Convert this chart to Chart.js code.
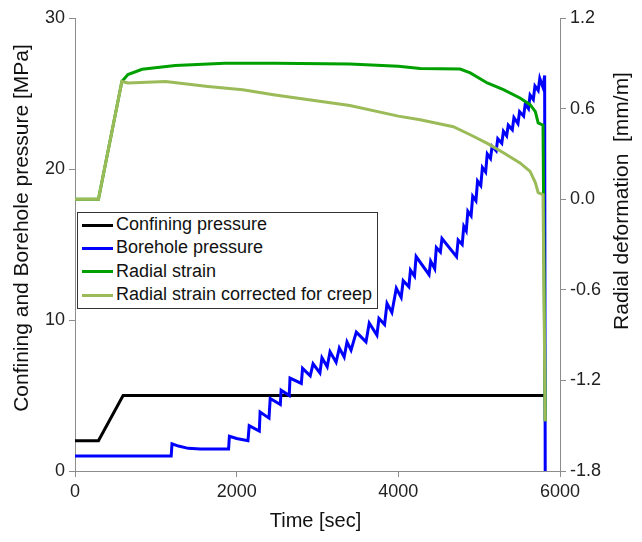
<!DOCTYPE html>
<html>
<head>
<meta charset="utf-8">
<script src="https://cdn.jsdelivr.net/npm/chart.js@4.4.1/dist/chart.umd.min.js"></script>
<style>
  body { margin: 0; background: #fff; }
  #wrap { position: relative; width: 642px; height: 542px; }
  #legend {
    position: absolute; left: 77px; top: 212px; width: 299px;
    background: #fff; border: 1px solid #333;
    font-family: 'Liberation Sans', Arial, sans-serif; font-size: 18px; color: #111;
    padding: 0 0 2px 0;
  }
  #legend div { height: 23.3px; line-height: 23.3px; white-space: nowrap; }
  #legend span.sw { display: inline-block; width: 31px; height: 3px; margin: 0 3px 0 4px; vertical-align: middle; }
</style>
</head>
<body>
<div id="wrap">
  <canvas id="chart" width="642" height="542"></canvas>
  <div id="legend"></div>
</div>
<script>
// Test data

// confining pressure [MPa]
const confTime = [0, 290, 595, 5800];
const confMPa  = [2, 2, 5, 5];

// borehole pressure [MPa]
const boreTime = [0, 1190, 1200, 1280, 1400, 1550, 1900, 1910, 2000, 2140,
  2155, 2280, 2290, 2400, 2415, 2540, 2550, 2650, 2660, 2800,
  2815, 2910, 2945, 3030, 3055, 3120, 3155, 3230, 3270, 3330,
  3365, 3415, 3480, 3600, 3640, 3735, 3760, 3830, 3860, 3920,
  3975, 4035, 4060, 4130, 4150, 4200, 4220, 4380, 4400, 4450,
  4470, 4520, 4540, 4720, 4740, 4790, 4810, 4840, 4860, 4900,
  4920, 4960, 4980, 5020, 5040, 5080, 5100, 5140, 5160, 5210,
  5230, 5280, 5300, 5340, 5360, 5410, 5430, 5480, 5500, 5550,
  5570, 5610, 5630, 5670, 5690, 5730, 5750, 5790, 5810, 5817];
const boreMPa = [1.0, 1.0, 1.8, 1.65, 1.5, 1.45, 1.45, 2.3, 2.15, 2.0,
  3.0, 2.65, 3.9, 3.5, 4.8, 4.4, 5.35, 5.0, 6.15, 5.8,
  6.8, 6.3, 7.1, 6.5, 7.5, 6.9, 7.9, 7.2, 8.15, 7.55,
  8.55, 8.0, 9.2, 8.55, 9.8, 9.0, 10.1, 9.7, 11.1, 10.5,
  12.1, 11.5, 12.6, 12.2, 13.3, 12.9, 14.2, 13.0, 13.9, 13.4,
  14.8, 14.5, 15.4, 14.2, 15.3, 15.0, 16.2, 15.9, 17.2, 16.9,
  18.2, 17.9, 19.2, 18.9, 20.1, 19.8, 21.0, 20.7, 21.5, 21.2,
  22.0, 21.7, 22.5, 22.2, 22.9, 22.6, 23.4, 23.0, 23.8, 23.5,
  24.3, 24.0, 24.9, 24.6, 25.5, 25.2, 26.0, 25.4, 26.2, 0];

// radial strain [mm/m]
const strainTime = [0, 290, 580, 655, 830, 1240, 1855, 2475, 3400, 4000,
  4270, 4765, 4890, 5100, 5300, 5505, 5630, 5695, 5730, 5790, 5817];
const strainVal = [0, 0, 0.78, 0.825, 0.86, 0.885, 0.9, 0.9, 0.895, 0.88,
  0.865, 0.862, 0.836, 0.77, 0.725, 0.67, 0.626, 0.58, 0.505, 0.49, -1.47];

// radial strain corrected for creep [mm/m]
const creepTime = [0, 290, 580, 655, 1120, 1645, 2075, 2475, 3400, 4000,
  4270, 4680, 4890, 5100, 5300, 5505, 5630, 5695, 5730, 5790, 5817];
const creepVal = [0, 0, 0.78, 0.77, 0.78, 0.747, 0.725, 0.69, 0.62, 0.55,
  0.526, 0.48, 0.427, 0.37, 0.308, 0.24, 0.184, 0.11, 0.043, 0.03, -1.47];

const xTicks = [0, 2000, 4000, 6000];
const xTitle = 'Time [sec]';
const yTitle = 'Confining and Borehole pressure [MPa]';
const y1Title = 'Radial deformation  [mm/m]';

const toPts = (xs, ys) => xs.map((x, i) => ({ x: x, y: ys[i] }));

const series = [
  { label: 'Confining pressure', color: '#000000', data: toPts(confTime, confMPa), axis: 'y', order: 3 },
  { label: 'Borehole pressure', color: '#0000ff', data: toPts(boreTime, boreMPa), axis: 'y', order: 2 },
  { label: 'Radial strain', color: '#00a000', data: toPts(strainTime, strainVal), axis: 'y1', order: 1 },
  { label: 'Radial strain corrected for creep', color: '#9bbb59', data: toPts(creepTime, creepVal), axis: 'y1', order: 0 }
];

// legend (html, sits over the plot)
document.getElementById('legend').innerHTML = series.map(s =>
  '<div><span class="sw" style="background:' + s.color + '"></span>' + s.label + '</div>'
).join('');

const FONT = "'Liberation Sans', Arial, sans-serif";
Chart.defaults.font.family = FONT;
Chart.defaults.color = '#222';

// axis titles drawn by hand - both vertical ones read bottom to top
const axisTitles = {
  id: 'axisTitles',
  afterDraw(chart) {
    const ctx = chart.ctx;
    const area = chart.chartArea;
    ctx.save();
    ctx.fillStyle = '#111';
    ctx.textAlign = 'center';
    ctx.textBaseline = 'middle';
    ctx.font = '20px ' + FONT;
    ctx.fillText(xTitle, (area.left + area.right) / 2 - 2, 521);

    ctx.font = '21px ' + FONT;
    ctx.save();
    ctx.translate(22, 228);
    ctx.rotate(-Math.PI / 2);
    ctx.fillText(yTitle, 0, 0);
    ctx.restore();

    ctx.save();
    ctx.translate(622, 201);
    ctx.rotate(-Math.PI / 2);
    ctx.fillText(y1Title, 0, 0);
    ctx.restore();
    ctx.restore();
  }
};

const axisGrid = { drawOnChartArea: false, drawTicks: true, tickLength: 6, color: '#8c8c8c' };
const axisBorder = { color: '#8c8c8c', width: 1 };

new Chart(document.getElementById('chart'), {
  type: 'line',
  data: {
    datasets: series.map(s => ({
      label: s.label,
      data: s.data,
      borderColor: s.color,
      backgroundColor: s.color,
      borderWidth: 3,
      pointRadius: 0,
      tension: 0,
      fill: false,
      yAxisID: s.axis,
      order: s.order
    }))
  },
  options: {
    responsive: false,
    animation: false,
    layout: { padding: { top: 18, left: 0, right: 0, bottom: 0 } },
    plugins: { legend: { display: false }, tooltip: { enabled: false } },
    scales: {
      x: {
        type: 'linear', min: 0, max: 6000,
        afterBuildTicks: sc => { sc.ticks = xTicks.map(v => ({ value: v })); },
        afterFit: sc => { sc.height = 71; },
        grid: axisGrid, border: axisBorder,
        ticks: { font: { size: 18 }, padding: 4, maxRotation: 0, callback: v => String(v) }
      },
      y: {
        position: 'left', min: 0, max: 30,
        ticks: { stepSize: 10, font: { size: 18 }, padding: 4 },
        afterFit: sc => { sc.width = 75; },
        grid: axisGrid, border: axisBorder
      },
      y1: {
        position: 'right', min: -1.8, max: 1.2,
        ticks: {
          stepSize: 0.6, font: { size: 18 }, padding: 4,
          callback: v => (Math.abs(v) < 1e-9 ? 0 : v).toFixed(1)
        },
        afterFit: sc => { sc.width = 82; },
        grid: axisGrid, border: axisBorder
      }
    }
  },
  plugins: [axisTitles]
});
</script>
</body>
</html>
